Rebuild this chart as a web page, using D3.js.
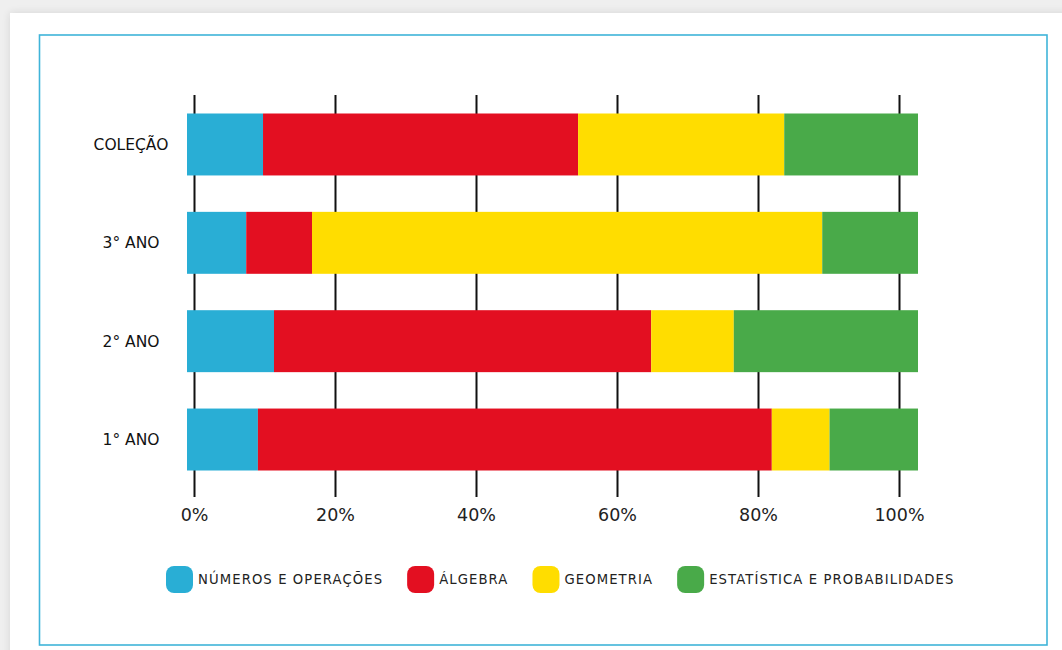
<!DOCTYPE html>
<html>
<head>
<meta charset="utf-8">
<script src="https://cdn.jsdelivr.net/npm/d3@7"></script>
<style>
  html, body { margin: 0; padding: 0; background: #efefef; }
  svg { display: block; }
</style>
</head>
<body>
<svg id="chart" width="1062" height="650"></svg>
<script>
const categories = ["COLEÇÃO", "3° ANO", "2° ANO", "1° ANO"];
const seriesNames = ["NÚMEROS E OPERAÇÕES", "ÁLGEBRA", "GEOMETRIA", "ESTATÍSTICA E PROBABILIDADES"];
const numeros     = [10.4,  8.1, 11.9,  9.7];
const algebra     = [43.1,  9.0, 51.6, 70.3];
const geometria   = [28.2, 69.8, 11.3,  7.9];
const estatistica = [18.3, 13.1, 25.2, 12.1];
const tickValues = [0, 20, 40, 60, 80, 100];
const tickLabels = ["0%", "20%", "40%", "60%", "80%", "100%"];
const colors = ["#29aed5", "#e30f21", "#ffdd00", "#49aa49"];

const svg = d3.select("#chart");

// page card + frame
const defs = svg.append("defs");
const f = defs.append("filter").attr("id", "sh").attr("x", "-5%").attr("y", "-5%").attr("width", "110%").attr("height", "110%");
f.append("feGaussianBlur").attr("in", "SourceAlpha").attr("stdDeviation", 4);
f.append("feOffset").attr("dx", 0).attr("dy", 0).attr("result", "b");
f.append("feComponentTransfer").append("feFuncA").attr("type", "linear").attr("slope", 0.12);
const fm = f.append("feMerge"); fm.append("feMergeNode"); fm.append("feMergeNode").attr("in", "SourceGraphic");

svg.append("rect").attr("x", 10).attr("y", 13).attr("width", 1080).attr("height", 660)
  .attr("fill", "#fff").attr("filter", "url(#sh)");
svg.append("rect").attr("x", 39.5).attr("y", 35).attr("width", 1007.5).attr("height", 610)
  .attr("fill", "none").attr("stroke", "#3fb4d9").attr("stroke-width", 1.6);

// scales
const gridTop = 95, gridBottom = 497;
const x = d3.scaleLinear().domain([0, 100]).range([194, 899]);      // axis scale
const xb = d3.scaleLinear().domain([0, 100]).range([187, 918]);     // bar scale (as drawn in source)
const y = d3.scaleBand().domain(categories).range([113.5, 470.5]).paddingInner(0.37).paddingOuter(0);

// axis with grid lines
const axis = d3.axisBottom(x).tickValues(tickValues)
  .tickFormat((d, i) => tickLabels[i]).tickSize(-(gridBottom - gridTop)).tickPadding(0);
const gAx = svg.append("g").attr("transform", `translate(0,${gridBottom})`).call(axis);
gAx.select(".domain").remove();
gAx.selectAll(".tick line").attr("stroke", "#111").attr("stroke-width", 2);
gAx.selectAll(".tick text")
  .attr("y", 18).attr("dy", "0.36em")
  .attr("fill", "#222")
  .style("font-family", "'DejaVu Sans', sans-serif")
  .style("font-weight", 400)
  .style("font-size", "17.5px");

// stacked data
const rows = categories.map((c, i) => ({ cat: c, v: [numeros[i], algebra[i], geometria[i], estatistica[i]] }));
const keys = [0, 1, 2, 3];
const stack = d3.stack().keys(keys).value((d, k) => d.v[k]);
const layers = stack(rows);

svg.append("g").selectAll("g").data(layers).join("g")
  .attr("fill", (d, i) => colors[i])
  .selectAll("rect").data(d => d).join("rect")
  .attr("x", d => xb(d[0]))
  .attr("width", d => xb(d[1]) - xb(d[0]))
  .attr("y", d => y(d.data.cat))
  .attr("height", y.bandwidth());

// category labels
svg.append("g").selectAll("text").data(categories).join("text")
  .attr("x", 131)
  .attr("y", d => y(d) + y.bandwidth() / 2)
  .attr("dy", "0.36em")
  .attr("text-anchor", "middle")
  .attr("fill", "#111")
  .style("font-family", "'DejaVu Sans', sans-serif")
  .style("font-size", "15.5px")
  .style("font-weight", 500)
  .text(d => d);

// legend
const lg = svg.append("g");
let lx = 166;
const ly = 566, sw = 27;
seriesNames.forEach((name, i) => {
  lg.append("rect").attr("x", lx).attr("y", ly).attr("width", sw).attr("height", sw)
    .attr("rx", 8).attr("fill", colors[i]);
  const t = lg.append("text").attr("x", lx + sw + 5).attr("y", ly + sw / 2).attr("dy", "0.36em")
    .attr("fill", "#222")
    .style("font-family", "'DejaVu Sans', sans-serif")
    .style("font-size", "13.2px")
    .style("letter-spacing", "1.1px")
    .text(name);
  const w = t.node().getComputedTextLength();
  lx = lx + sw + 5 + w + 24;
});
</script>
</body>
</html>
